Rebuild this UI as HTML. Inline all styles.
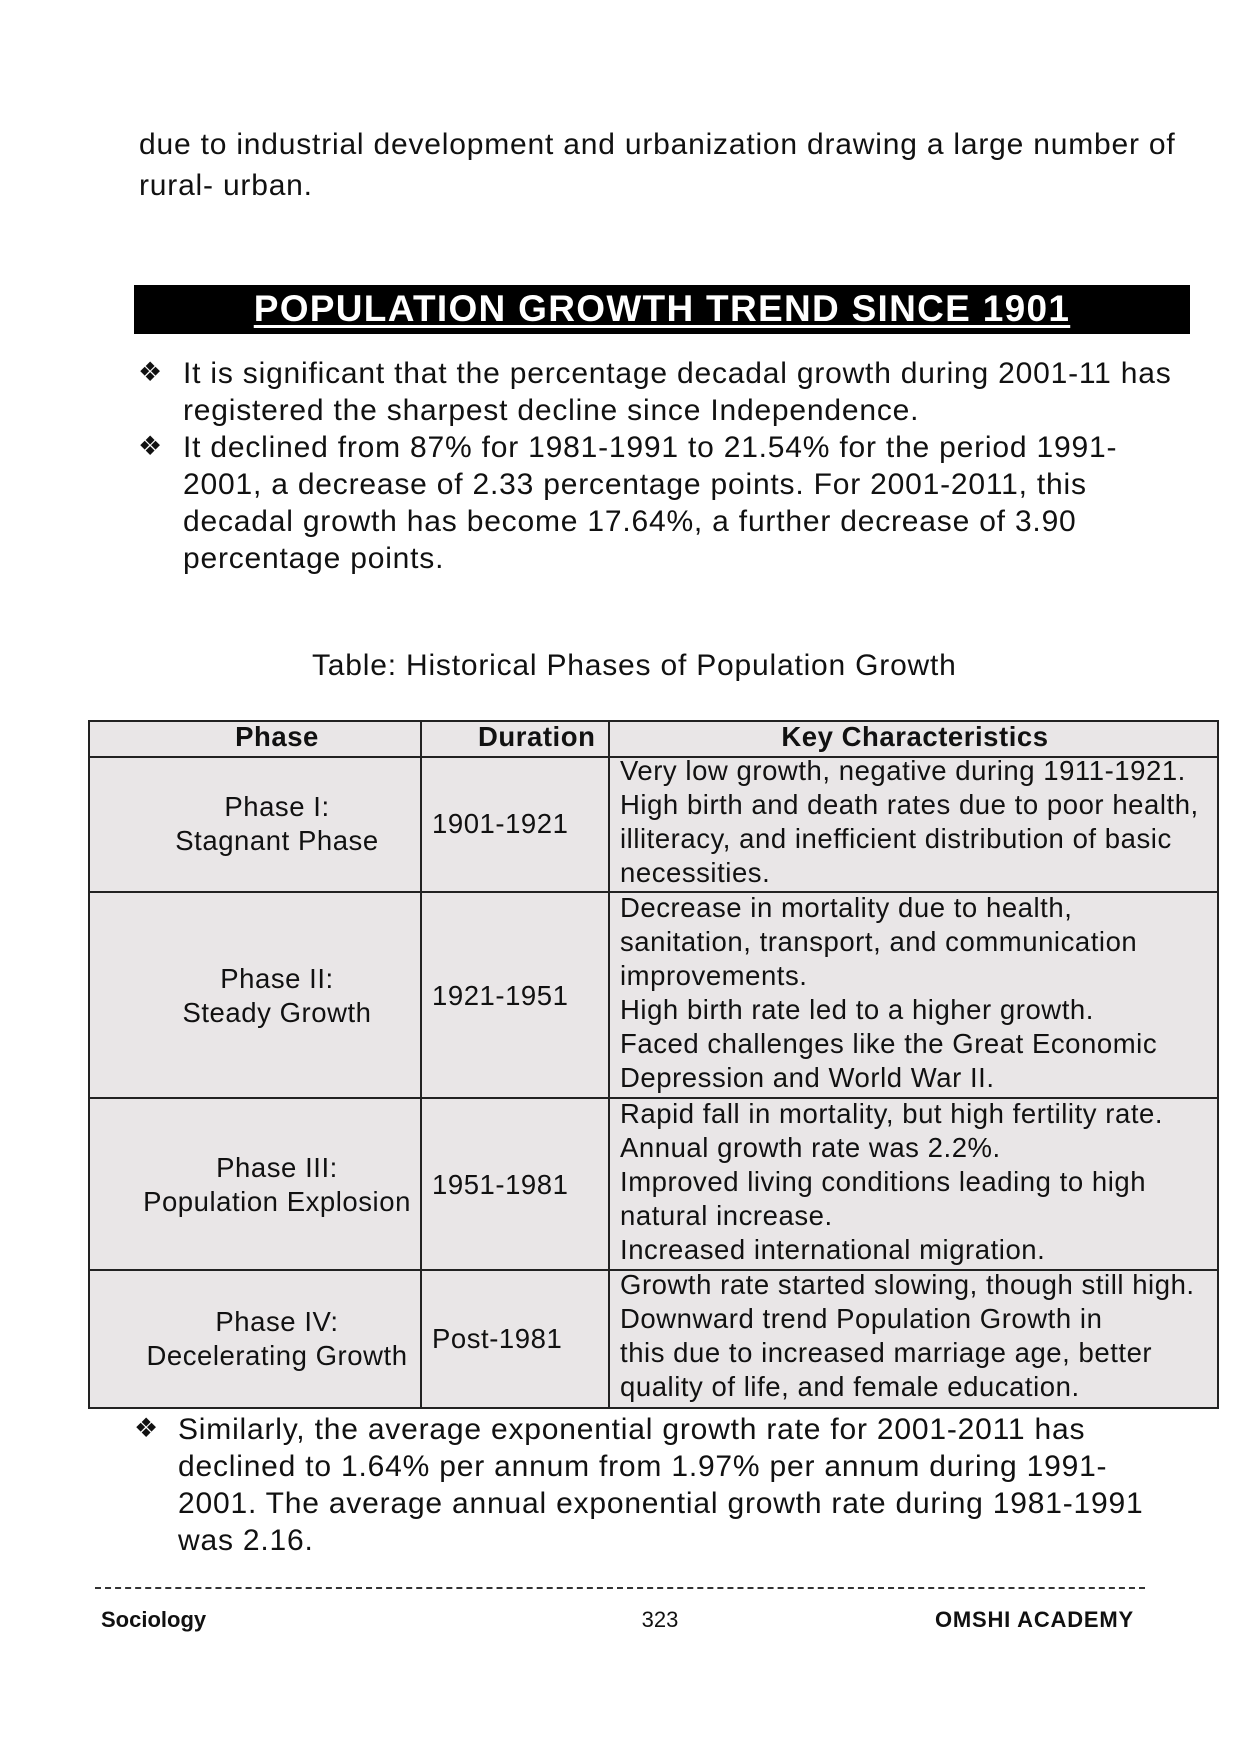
<!DOCTYPE html>
<html><head><meta charset="utf-8"><style>
body{margin:0;background:#fff;}
#p{position:relative;width:1240px;height:1755px;overflow:hidden;background:#fff;font-family:"Liberation Sans",Arial,sans-serif;color:#111;}
.l{position:absolute;white-space:nowrap;line-height:36px;}
.b{font-size:30px;letter-spacing:0.8px;}
.t{font-size:27.5px;line-height:34px;letter-spacing:0.55px;}
.bul{position:absolute;font-size:27px;line-height:36px;}
.h{position:absolute;background:#e9e6e7;}
.hl{position:absolute;background:#222;height:2px;}
.vl{position:absolute;background:#222;width:2px;}
.c1{left:112px;width:330px;text-align:center;}
</style></head><body><div id="p">
<div class="l b" style="left:139px;top:127px">due to industrial development and urbanization drawing a large number of</div>
<div class="l b" style="left:139px;top:168px">rural- urban.</div>

<div style="position:absolute;left:134px;top:285px;width:1056px;height:49px;background:#000;"></div>
<div class="l" style="left:134px;width:1056px;top:287px;line-height:44px;text-align:center;color:#fff;font-weight:bold;font-size:37px;letter-spacing:1.3px;text-decoration:underline;text-underline-offset:4px;">POPULATION GROWTH TREND SINCE 1901</div>

<div class="bul" style="left:138px;top:354px">❖</div>
<div class="l b" style="left:183px;top:356px">It is significant that the percentage decadal growth during 2001-11 has</div>
<div class="l b" style="left:183px;top:393px">registered the sharpest decline since Independence.</div>
<div class="bul" style="left:138px;top:428px">❖</div>
<div class="l b" style="left:183px;top:430px">It declined from 87% for 1981-1991 to 21.54% for the period 1991-</div>
<div class="l b" style="left:183px;top:467px">2001, a decrease of 2.33 percentage points. For 2001-2011, this</div>
<div class="l b" style="left:183px;top:504px">decadal growth has become 17.64%, a further decrease of 3.90</div>
<div class="l b" style="left:183px;top:541px">percentage points.</div>

<div class="l b" style="left:312px;top:648px">Table: Historical Phases of Population Growth</div>

<div class="h" style="left:89px;top:721px;width:1129px;height:687px;"></div>
<div class="hl" style="left:89px;top:720px;width:1130px"></div>
<div class="hl" style="left:89px;top:756px;width:1130px"></div>
<div class="hl" style="left:89px;top:891px;width:1130px"></div>
<div class="hl" style="left:89px;top:1097px;width:1130px"></div>
<div class="hl" style="left:89px;top:1269px;width:1130px"></div>
<div class="hl" style="left:89px;top:1407px;width:1130px"></div>
<div class="vl" style="left:88px;top:720px;height:689px"></div>
<div class="vl" style="left:420px;top:720px;height:689px"></div>
<div class="vl" style="left:608px;top:720px;height:689px"></div>
<div class="vl" style="left:1217px;top:720px;height:689px"></div>

<div class="l t c1" style="top:720px;font-weight:bold">Phase</div>
<div class="l t" style="left:478px;top:720px;font-weight:bold">Duration</div>
<div class="l t" style="left:610px;width:610px;text-align:center;top:720px;font-weight:bold">Key Characteristics</div>

<div class="l t c1" style="top:790px">Phase I:</div>
<div class="l t c1" style="top:824px">Stagnant Phase</div>
<div class="l t" style="left:432px;top:807px">1901-1921</div>
<div class="l t" style="left:620px;top:754px">Very low growth, negative during 1911-1921.</div>
<div class="l t" style="left:620px;top:788px">High birth and death rates due to poor health,</div>
<div class="l t" style="left:620px;top:822px">illiteracy, and inefficient distribution of basic</div>
<div class="l t" style="left:620px;top:856px">necessities.</div>

<div class="l t c1" style="top:962px">Phase II:</div>
<div class="l t c1" style="top:996px">Steady Growth</div>
<div class="l t" style="left:432px;top:979px">1921-1951</div>
<div class="l t" style="left:620px;top:891px">Decrease in mortality due to health,</div>
<div class="l t" style="left:620px;top:925px">sanitation, transport, and communication</div>
<div class="l t" style="left:620px;top:959px">improvements.</div>
<div class="l t" style="left:620px;top:993px">High birth rate led to a higher growth.</div>
<div class="l t" style="left:620px;top:1027px">Faced challenges like the Great Economic</div>
<div class="l t" style="left:620px;top:1061px">Depression and World War II.</div>

<div class="l t c1" style="top:1151px">Phase III:</div>
<div class="l t c1" style="top:1185px">Population Explosion</div>
<div class="l t" style="left:432px;top:1168px">1951-1981</div>
<div class="l t" style="left:620px;top:1097px">Rapid fall in mortality, but high fertility rate.</div>
<div class="l t" style="left:620px;top:1131px">Annual growth rate was 2.2%.</div>
<div class="l t" style="left:620px;top:1165px">Improved living conditions leading to high</div>
<div class="l t" style="left:620px;top:1199px">natural increase.</div>
<div class="l t" style="left:620px;top:1233px">Increased international migration.</div>

<div class="l t c1" style="top:1305px">Phase IV:</div>
<div class="l t c1" style="top:1339px">Decelerating Growth</div>
<div class="l t" style="left:432px;top:1322px">Post-1981</div>
<div class="l t" style="left:620px;top:1268px">Growth rate started slowing, though still high.</div>
<div class="l t" style="left:620px;top:1302px">Downward trend Population Growth in</div>
<div class="l t" style="left:620px;top:1336px">this due to increased marriage age, better</div>
<div class="l t" style="left:620px;top:1370px">quality of life, and female education.</div>

<div class="bul" style="left:134px;top:1410px">❖</div>
<div class="l b" style="left:178px;top:1412px">Similarly, the average exponential growth rate for 2001-2011 has</div>
<div class="l b" style="left:178px;top:1449px">declined to 1.64% per annum from 1.97% per annum during 1991-</div>
<div class="l b" style="left:178px;top:1486px">2001. The average annual exponential growth rate during 1981-1991</div>
<div class="l b" style="left:178px;top:1523px">was 2.16.</div>

<div style="position:absolute;left:95px;top:1587px;width:1050px;border-top:2px dashed #333;"></div>
<div class="l" style="left:101px;top:1606px;font-size:22px;line-height:28px;font-weight:bold">Sociology</div>
<div class="l" style="left:630px;width:60px;text-align:center;top:1606px;font-size:22px;line-height:28px">323</div>
<div class="l" style="right:106px;top:1606px;font-size:22px;line-height:28px;font-weight:bold;letter-spacing:0.8px">OMSHI ACADEMY</div>
</div></body></html>
